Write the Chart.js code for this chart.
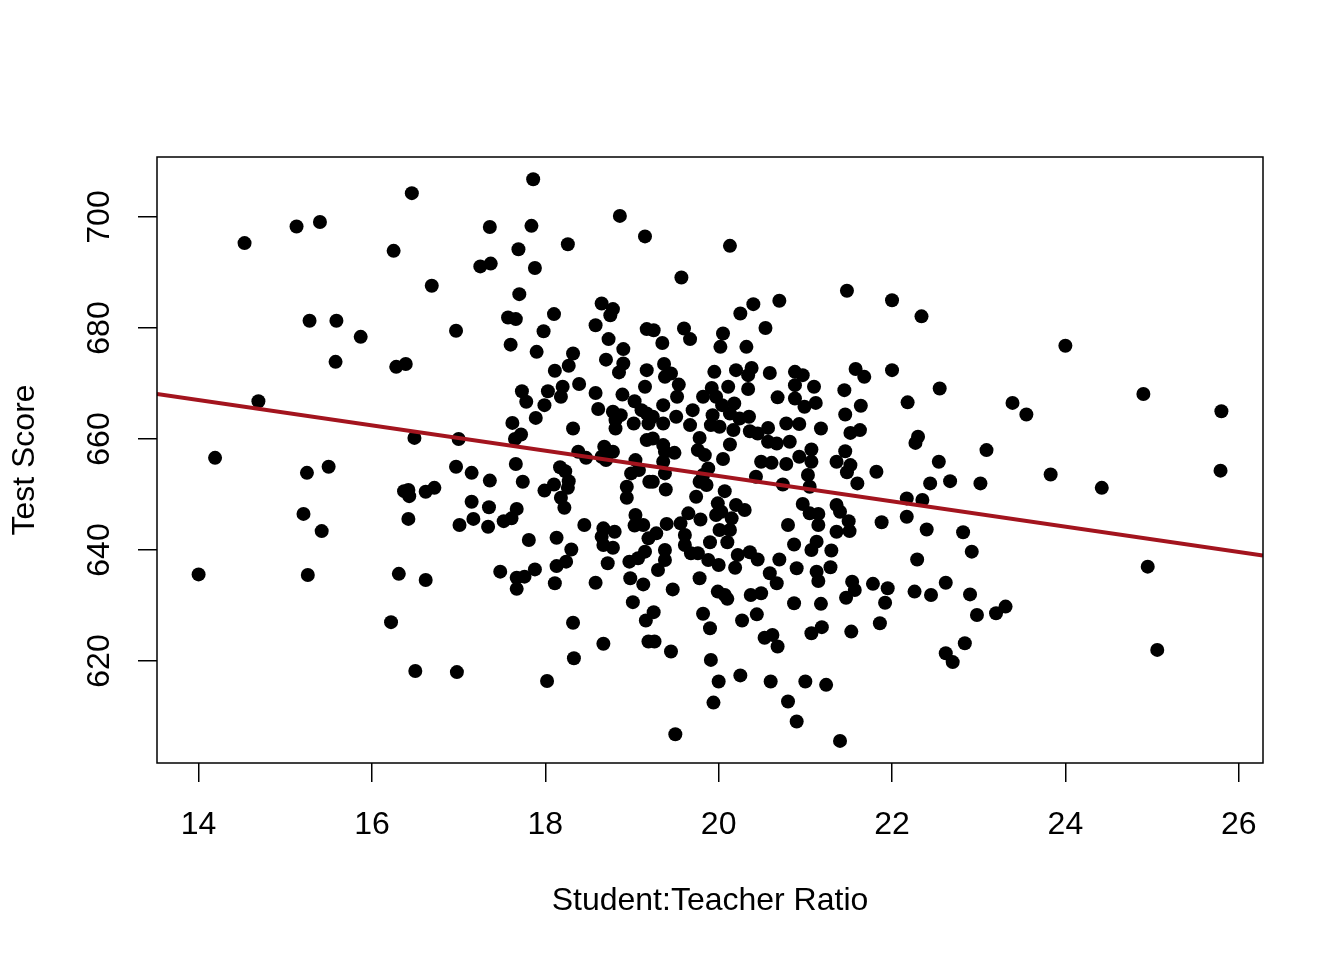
<!DOCTYPE html>
<html>
<head>
<meta charset="utf-8">
<title>Test Score vs Student:Teacher Ratio</title>
<script src="https://cdn.jsdelivr.net/npm/chart.js@4.4.1/dist/chart.umd.min.js"></script>
<style>
  html, body { margin: 0; padding: 0; background: #fff; }
  #wrap { width: 1344px; height: 960px; }
</style>
</head>
<body>
<div id="wrap"><canvas id="myChart" width="1344" height="960"></canvas></div>
<script>
// student:teacher ratio (x) and test score (y)
const str = [
  14.00, 14.19, 14.53, 14.69, 15.13, 15.21, 15.25, 15.26, 15.28, 15.40,
  15.42, 15.50, 15.58, 15.59, 15.87, 16.22, 16.25, 16.28, 16.39, 16.31,
  16.37, 16.42, 16.43, 16.42, 16.49, 16.46, 16.50, 16.62, 16.62, 16.69,
  16.72, 16.97, 16.98, 16.97, 17.00, 17.01,
  17.86, 18.86, 19.15, 17.36, 17.84, 18.26, 17.69, 17.25, 17.37, 17.88,
  17.70, 18.65, 18.78, 18.75, 17.57, 17.66, 18.10, 17.98, 18.58, 19.17,
  18.73, 17.60, 17.90, 18.90, 18.32, 18.70, 18.90, 18.85, 18.27, 18.11,
  19.17, 19.15, 17.73, 17.78, 18.03, 18.20, 18.18, 18.39, 18.58, 18.89,
  17.99, 18.61, 19.03, 19.11, 18.78, 18.87, 18.81, 18.81, 19.02, 17.89,
  17.62, 17.72, 17.65, 18.32, 19.17, 18.38, 18.47, 18.68, 18.78, 18.65,
  18.70, 19.04, 17.66, 18.17,
  17.15, 17.36, 17.74, 18.23, 18.10, 17.99, 18.27, 18.26, 18.18, 18.22,
  18.99, 19.08, 18.94, 18.94, 19.20, 17.15, 17.17, 17.34, 17.35, 17.52,
  17.61, 17.67, 17.81, 18.13, 18.45, 18.67, 18.80, 18.65, 18.67, 18.78,
  18.30, 18.24, 18.13, 18.72, 19.04, 19.03, 19.13, 19.19, 18.97, 19.07,
  19.15, 17.48, 17.67, 17.76, 17.88, 17.67, 18.11, 18.58, 18.98, 19.13,
  19.01, 19.16, 18.32, 18.67, 18.33, 19.19, 18.02,
  20.13, 19.57, 20.40, 20.70, 20.25, 20.54, 19.25, 19.60, 19.67, 19.35,
  20.05, 20.02, 20.32, 19.37, 19.45, 19.38, 19.54, 19.95, 20.20, 20.38,
  20.34, 20.59, 20.88, 20.97, 20.88, 21.10, 19.52, 19.92, 19.82, 19.97,
  20.04, 20.11, 20.34, 20.18, 20.68, 20.88, 20.99, 21.12, 19.36, 19.17,
  19.24, 19.36, 19.51, 19.19, 19.70, 19.67, 19.93, 19.91, 20.01, 20.13,
  20.24, 20.35, 20.17, 19.78, 20.13, 20.36, 20.45, 20.57, 20.57, 20.67,
  20.78, 20.93, 21.18, 20.82, 19.24, 19.36, 19.38, 19.49, 19.76, 19.84,
  20.05, 20.49, 20.61, 20.78, 20.93, 21.07, 21.07, 21.36, 19.36,
  19.38, 19.24, 19.39, 19.82, 19.88, 19.86, 19.78, 19.74, 20.07, 20.43,
  20.74, 21.03, 21.05, 19.99, 19.97, 20.03, 20.20, 20.30, 20.15, 19.65,
  19.56, 19.61, 19.61, 19.68, 19.79, 19.40, 19.28, 20.01, 20.13, 20.10,
  19.90, 19.76, 19.88, 20.00, 20.22, 20.36, 20.45, 20.19, 19.38, 19.38,
  19.30, 19.47, 19.78, 19.99, 20.10, 20.07, 20.37, 20.49, 20.59, 20.67,
  20.70, 20.80, 20.87, 20.90, 20.97, 21.05, 21.15, 21.15, 21.13, 21.07,
  21.30, 21.36, 21.36, 21.13, 21.15, 21.29, 21.18, 20.87, 20.44, 20.27,
  19.82, 19.90, 19.25, 19.26, 19.45, 20.53, 20.62, 20.68, 21.07, 21.19,
  19.91, 20.00, 20.25, 20.60, 21.00, 21.24, 19.94, 20.80, 20.90, 19.50,
  21.40,
  21.48, 22.00, 22.34, 21.58, 21.68, 22.00, 21.45, 22.55, 21.64, 21.46,
  22.18, 23.39, 23.55, 21.52, 21.63, 22.30, 22.27, 21.46, 23.09, 22.54,
  21.52, 21.82,
  21.48, 21.60, 22.44, 22.67, 23.02, 22.17, 22.35, 22.17, 21.40, 21.50,
  21.51, 21.88, 22.40, 22.82, 22.92, 22.29, 21.54, 21.57, 21.47, 21.78,
  21.95, 21.92, 22.26, 22.45, 22.62, 22.90, 22.98, 23.20, 23.31, 21.86,
  21.53, 22.84, 22.62, 22.70,
  24.00, 24.90, 25.80, 23.83, 24.42, 25.79, 24.95, 25.06
];

const score = [
  635.6, 656.6, 695.3, 666.8, 698.3, 646.5, 653.9, 635.5, 681.3, 699.1,
  643.4, 655.0, 673.9, 681.3, 678.4, 627.0, 693.9, 673.0, 673.5, 635.7,
  650.6, 650.8, 649.7, 645.6, 660.2, 704.3, 618.2, 634.6, 650.5, 687.6,
  651.2, 679.5, 618.0, 655.0, 660.0, 644.5,
  706.8, 700.2, 696.5, 698.2, 698.4, 695.1, 694.2, 691.1, 691.6, 690.8,
  686.1, 684.4, 683.4, 682.3, 681.9, 681.6, 682.5, 679.4, 680.5, 679.8,
  678.0, 677.0, 675.7, 676.2, 675.4, 674.3, 673.6, 672.0, 673.2, 672.3,
  672.4, 669.4, 668.6, 666.7, 668.6, 669.4, 667.6, 669.9, 668.3, 668.0,
  666.1, 665.4, 666.8, 665.2, 664.9, 664.3, 663.4, 661.9, 662.8, 663.8,
  662.9, 660.8, 660.0, 661.9, 659.8, 657.7, 656.6, 658.6, 657.7, 656.8,
  656.2, 656.2, 655.5, 654.9,
  653.9, 652.5, 652.3, 654.2, 651.8, 650.7, 652.4, 651.2, 649.4, 647.6,
  653.8, 654.4, 651.4, 649.4, 652.3, 648.7, 645.6, 644.2, 647.7, 645.2,
  645.7, 647.4, 641.8, 642.2, 644.5, 643.9, 643.3, 642.4, 640.9, 640.4,
  640.1, 637.9, 637.1, 637.6, 646.3, 644.4, 644.5, 642.1, 637.9, 638.5,
  639.7, 636.1, 635.0, 635.2, 636.5, 633.0, 634.0, 634.1, 634.9, 633.8,
  630.6, 627.3, 626.9, 623.1, 620.5, 623.5, 616.4,
  694.8, 689.1, 684.3, 684.9, 682.6, 680.0, 679.6, 679.9, 678.0, 677.3,
  679.0, 676.6, 676.6, 673.5, 671.8, 671.2, 669.8, 672.1, 672.4, 672.8,
  671.5, 671.9, 672.1, 671.5, 669.7, 669.4, 667.6, 669.2, 667.6, 667.6,
  666.1, 669.4, 669.0, 666.4, 667.5, 667.3, 665.8, 666.5, 666.1, 664.6,
  664.0, 662.8, 664.0, 662.8, 665.2, 662.5, 664.3, 662.5, 662.2, 664.6,
  663.7, 664.0, 661.6, 660.2, 659.0, 661.4, 661.0, 662.0, 659.5, 659.2,
  662.8, 662.7, 661.9, 659.5, 660.1, 658.9, 657.7, 657.5, 658.0, 657.1,
  656.4, 655.9, 655.7, 655.5, 656.8, 658.1, 655.9, 655.9, 655.9,
  653.8, 652.3, 650.9, 653.5, 654.7, 651.7, 652.3, 649.6, 650.6, 653.2,
  651.8, 653.5, 651.4, 648.4, 646.3, 646.9, 648.1, 647.2, 645.7, 646.6,
  644.8, 642.7, 640.9, 639.4, 645.5, 644.7, 643.0, 643.6, 643.6, 641.4,
  641.4, 639.4, 638.2, 637.3, 639.1, 639.6, 638.3, 636.8, 640.0, 638.2,
  636.4, 632.9, 634.9, 632.5, 631.2, 631.9, 631.9, 632.2, 635.8, 634.0,
  638.3, 644.5, 641.0, 636.7, 648.3, 646.6, 646.5, 644.5, 641.5, 640.0,
  639.9, 648.1, 643.3, 636.1, 634.4, 636.9, 630.3, 630.4, 628.4, 627.3,
  628.5, 625.9, 628.8, 623.5, 621.7, 624.2, 624.7, 622.6, 625.0, 626.1,
  620.2, 616.3, 617.4, 616.3, 616.3, 615.7, 612.5, 612.7, 609.1, 606.8,
  605.6,
  686.7, 685.0, 682.1, 672.6, 671.2, 672.4, 668.8, 669.1, 666.0, 664.4,
  666.6, 666.5, 664.4, 661.1, 661.6, 660.4, 659.3, 657.8, 658.0, 655.9,
  655.3, 654.1,
  654.0, 652.0, 652.0, 652.4, 652.0, 649.3, 649.0, 646.0, 646.9, 645.2,
  643.4, 645.0, 643.7, 643.2, 639.7, 638.3, 634.3, 632.8, 631.4, 633.9,
  633.1, 630.5, 632.5, 631.9, 634.1, 632.0, 628.3, 628.6, 629.8, 626.8,
  625.3, 623.2, 621.4, 619.8,
  676.8, 668.1, 665.0, 653.6, 651.2, 654.3, 637.0, 622.0
];

const xTicks = [14, 16, 18, 20, 22, 24, 26];
const yTicks = [620, 640, 660, 680, 700];

// ends of the fitted line, at the edges of the plot region
const fitX = [13.52, 26.28];
const fitY = [668.1, 639.0];

const fontFamily = "'Liberation Sans', Arial, Helvetica, sans-serif";
Chart.defaults.font.family = fontFamily;
Chart.defaults.color = "#000";

const points = str.map((x, i) => ({ x: x, y: score[i] }));
const fitLine = fitX.map((x, i) => ({ x: x, y: fitY[i] }));

// box round the plot region, like base R
const boxPlugin = {
  id: "box",
  afterDraw: (chart) => {
    const a = chart.chartArea;
    const ctx = chart.ctx;
    ctx.save();
    ctx.strokeStyle = "#000";
    ctx.lineWidth = 1.5;
    ctx.strokeRect(a.left, a.top, a.right - a.left, a.bottom - a.top);
    ctx.restore();
  },
};

const tickGrid = {
  drawOnChartArea: false,
  drawTicks: true,
  tickLength: 19,
  color: "#000",
  lineWidth: 1.5,
};

const ctx = document.getElementById("myChart").getContext("2d");
const myChart = new Chart(ctx, {
  type: "scatter",
  data: {
    datasets: [
      {
        type: "line",
        data: fitLine,
        borderColor: "#A3141E",
        borderWidth: 4,
        pointRadius: 0,
        fill: false,
        order: 0,
      },
      {
        type: "scatter",
        data: points,
        backgroundColor: "#000",
        borderColor: "#000",
        borderWidth: 0,
        pointRadius: 7,
        order: 1,
      },
    ],
  },
  options: {
    responsive: false,
    animation: false,
    devicePixelRatio: 1,
    layout: { padding: { top: 157, right: 81, bottom: 0, left: 0 } },
    plugins: {
      legend: { display: false },
      tooltip: { enabled: false },
    },
    scales: {
      x: {
        type: "linear",
        min: 13.52,
        max: 26.28,
        afterBuildTicks: (s) => { s.ticks = xTicks.map((v) => ({ value: v })); },
        afterFit: (s) => { s.height = 197; },
        grid: tickGrid,
        border: { display: false },
        ticks: { color: "#000", font: { size: 32 }, padding: 24, maxRotation: 0, autoSkip: false },
        title: {
          display: true,
          text: "Student:Teacher Ratio",
          color: "#000",
          font: { size: 32 },
          padding: { top: 40, bottom: 40 },
        },
      },
      y: {
        type: "linear",
        min: 601.62,
        max: 710.81,
        afterBuildTicks: (s) => { s.ticks = yTicks.map((v) => ({ value: v })); },
        afterFit: (s) => { s.width = 157; },
        grid: tickGrid,
        border: { display: false },
        ticks: {
          color: "#000",
          font: { size: 32 },
          padding: 11,
          minRotation: 90,
          maxRotation: 90,
          crossAlign: "center",
          autoSkip: false,
        },
        title: {
          display: true,
          text: "Test Score",
          color: "#000",
          font: { size: 32 },
          padding: { top: 6, bottom: 6 },
        },
      },
    },
  },
  plugins: [boxPlugin],
});
</script>
</body>
</html>
